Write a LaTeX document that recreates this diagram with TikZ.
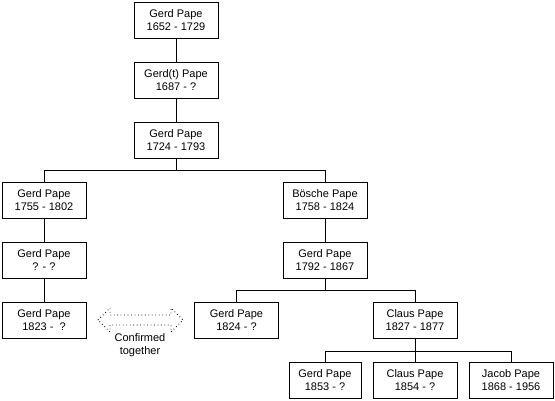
\documentclass[tikz,border=0pt]{standalone}
\usepackage{fontspec}
\setmainfont{Liberation Sans}
\begin{document}
\begin{tikzpicture}[x=0.75pt, y=-0.75pt, line width=0.6pt,
  every node/.style={font=\fontsize{8.25}{9.75}\selectfont, align=center},
  person/.style={draw, fill=white, minimum width=63pt, minimum height=27pt, inner sep=0pt}]
  \useasboundingbox (0,0) rectangle (555,400);
  \node[person] (g1652) at (176,20) {Gerd Pape\\1652 - 1729};
  \node[person] (g1687) at (176,80) {Gerd(t) Pape\\1687 - ?};
  \node[person] (g1724) at (176,140) {Gerd Pape\\1724 - 1793};
  \node[person] (g1755) at (44,200) {Gerd Pape\\1755 - 1802};
  \node[person] (b1758) at (325,200) {Bösche Pape\\1758 - 1824};
  \node[person] (gq) at (44,260) {Gerd Pape\\? - ?};
  \node[person] (g1792) at (325,260) {Gerd Pape\\1792 - 1867};
  \node[person] (g1823) at (44,320) {Gerd Pape\\1823 - \ ?};
  \node[person] (g1824) at (236.5,320) {Gerd Pape\\1824 - ?};
  \node[person] (c1827) at (415,320) {Claus Pape\\1827 - 1877};
  \node[person, minimum width=54pt] (g1853) at (325,380) {Gerd Pape\\1853 - ?};
  \node[person] (c1854) at (415,380) {Claus Pape\\1854 - ?};
  \node[person] (j1868) at (511,380) {Jacob Pape\\1868 - 1956};
  \draw (g1652) -- (g1687);
  \draw (g1687) -- (g1724);
  \draw (g1724.south) -- ++(0,12) -| (g1755.north);
  \draw (g1724.south) -- ++(0,12) -| (b1758.north);
  \draw (g1755) -- (gq);
  \draw (gq) -- (g1823);
  \draw (b1758) -- (g1792);
  \draw (g1792.south) -- ++(0,12) -| (g1824.north);
  \draw (g1792.south) -- ++(0,12) -| (c1827.north);
  \draw (c1827.south) -- ++(0,13) -| (g1853.north);
  \draw (c1827.south) -- ++(0,13) -| (c1854.north);
  \draw (c1827.south) -- ++(0,13) -| (j1868.north);
  \draw[dotted] (98,320) -- (110,308) -- (110,315) -- (171,315) -- (171,308) -- (183,320)
    -- (171,332) -- (171,325) -- (110,325) -- (110,332) -- cycle;
  \node (conf) at (140,345) {Confirmed\\together};
\end{tikzpicture}
\end{document}
